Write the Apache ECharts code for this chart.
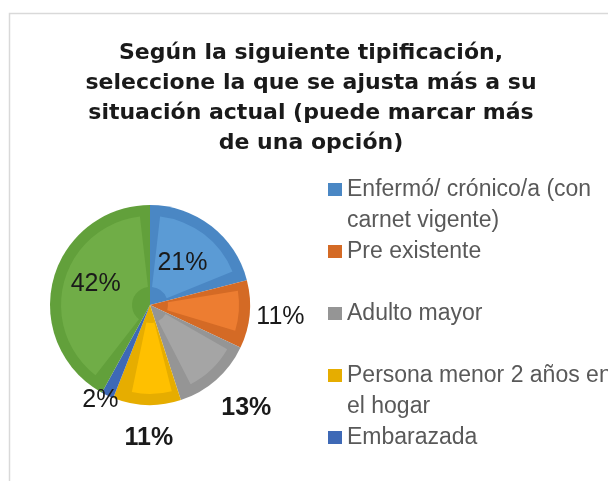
<!DOCTYPE html>
<html>
<head>
<meta charset="utf-8">
<script src="https://cdn.jsdelivr.net/npm/echarts@6/dist/echarts.min.js"></script>
<style>
  html, body { margin: 0; padding: 0; background: #ffffff; }
  #chart { width: 608px; height: 481px; }
</style>
</head>
<body>
<div id="chart"></div>
<script>
// Answer categories (line breaks mark where the legend wraps)
const categories = [
  'Enfermó/ crónico/a (con\ncarnet vigente)',
  'Pre existente',
  'Adulto mayor',
  'Persona menor 2 años en\nel hogar',
  'Embarazada',
  'Ninguna'
];
// Share of responses, in percent
const shares = [21, 11, 13, 11, 2, 42];
// Only the first five categories fit in the legend box
const legendCount = 5;

// Slice colours: darker rim and lighter core
const rimColors  = ['#4A87C4', '#D46A25', '#959595', '#E6AD00', '#3E69B6', '#62A03B'];
const coreColors = ['#5B9BD5', '#ED7D31', '#A5A5A5', '#FFC000', '#4472C4', '#70AD47'];

// How each percentage label is placed around its slice
const labelPlacement = [
  { position: 'inside' },
  { position: 'outside', length: 26 },
  { position: 'outside', length: 38, bold: true },
  { position: 'outside', length: 33, bold: true, dx: 8 },
  { position: 'outside', length: 5 },
  { position: 'inside', dx: -3, dy: -8 }
];

const FONT = '"Liberation Sans", Arial, sans-serif';

const rimData = categories.map((name, i) => {
  const p = labelPlacement[i];
  return {
    name: name,
    value: shares[i],
    itemStyle: { color: rimColors[i] },
    label: {
      position: p.position,
      fontWeight: p.bold ? 'bold' : 'normal'
    },
    labelLine: { show: false, length: p.length || 0, length2: 0 }
  };
});

const coreData = categories.map((name, i) => ({
  name: name,
  value: shares[i],
  itemStyle: { color: coreColors[i] }
}));

const chart = echarts.init(document.getElementById('chart'), null, { renderer: 'canvas' });

chart.setOption({
  backgroundColor: '#ffffff',
  animation: false,
  graphic: [{
    type: 'rect',
    left: 7, top: 11,
    shape: { width: 700, height: 600 },
    style: { fill: 'none', stroke: '#D9D9D9', lineWidth: 1.5 },
    silent: true,
    z: -10
  }],
  title: {
    text: 'Según la siguiente tipificación,\nseleccione la que se ajusta más a su\nsituación actual (puede marcar más\nde una opción)',
    left: 311,
    top: 38,
    padding: 0,
    textAlign: 'center',
    textStyle: {
      fontFamily: '"DejaVu Sans", sans-serif',
      fontSize: 22,
      fontWeight: 'bold',
      color: '#1a1a1a',
      lineHeight: 30
    }
  },
  legend: {
    orient: 'vertical',
    left: 328,
    top: 143,
    height: 420,
    padding: 0,
    itemGap: -31,
    itemWidth: 14,
    itemHeight: 13,
    icon: 'rect',
    selectedMode: false,
    data: categories.slice(0, legendCount),
    formatter: name => name.indexOf('\n') >= 0 ? ' \n' + name : ' \n' + name + '\n ',
    textStyle: {
      fontFamily: FONT,
      fontSize: 23,
      lineHeight: 31,
      color: '#595959'
    }
  },
  series: [
    {
      name: 'rim',
      type: 'pie',
      center: [150, 305],
      radius: [0, 100],
      startAngle: 90,
      clockwise: true,
      avoidLabelOverlap: false,
      silent: true,
      label: {
        show: true,
        formatter: p => Math.round(p.percent) + '%',
        fontFamily: FONT,
        fontSize: 25,
        color: '#1a1a1a'
      },
      labelLayout: params => {
        const p = labelPlacement[params.dataIndex];
        const out = { dx: p.dx || 0, dy: p.dy || 0 };
        if (p.position === 'outside') out.align = 'center';
        return out;
      },
      data: rimData
    },
    {
      name: 'core',
      type: 'pie',
      center: [150, 305],
      radius: [18, 89],
      startAngle: 90,
      clockwise: true,
      padAngle: 13,
      silent: true,
      label: { show: false },
      labelLine: { show: false },
      data: coreData
    }
  ]
});
</script>
</body>
</html>
